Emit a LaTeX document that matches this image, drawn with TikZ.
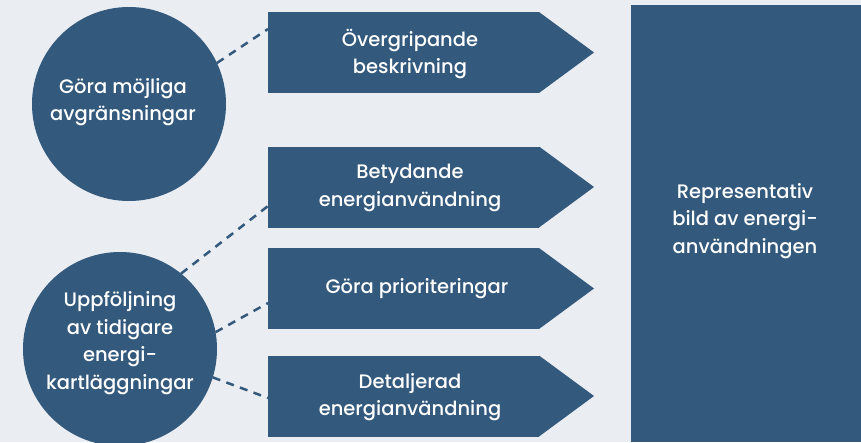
\documentclass[tikz,border=0pt]{standalone}
\usepackage{fontspec}
\setmainfont{Poppins}[UprightFont={* Medium}]
\definecolor{navy}{HTML}{33597D}
\definecolor{bgc}{HTML}{EAEDF2}
\begin{document}
\begin{tikzpicture}[x=1pt,y=-1pt,
  txt/.style={text=white, font=\fontsize{19.5}{27.7}\selectfont, align=center, inner sep=0pt},
  disc/.style={circle, fill=navy, minimum size=194pt, inner sep=0pt, outer sep=0pt},
  body/.style={rectangle, fill=navy, minimum width=271pt, minimum height=81pt, inner sep=0pt, outer sep=0pt},
  tip/.style={fill=navy},
  link/.style={draw=navy, line width=2.5pt, dash pattern=on 8pt off 6.5pt}]
\useasboundingbox (0,0) rectangle (861,442);
\fill[bgc] (0,0) rectangle (861,442);
\clip (0,0) rectangle (861,442);

% circles
\node[disc] (c1) at (129,104) {};
\node[txt] (c1t) at (123,102) {Göra möjliga\\avgränsningar};
\node[disc] (c2) at (120,349) {};
\node[txt] (c2t) at (120,343) {Uppföljning\\av tidigare\\energi-\\kartläggningar};

% arrows
\node[body] (a1) at (403.5,52.5) {};
\fill[tip] (a1.north east) -- ([xshift=55pt]a1.east) -- (a1.south east) -- cycle;
\node[txt] (a1t) at (410,54) {Övergripande\\beskrivning};

\node[body] (a2) at (403.5,187) {};
\fill[tip] (a2.north east) -- ([xshift=55pt]a2.east) -- (a2.south east) -- cycle;
\node[txt] (a2t) at (410,188) {Betydande\\energianvändning};

\node[body] (a3) at (403.5,288.5) {};
\fill[tip] (a3.north east) -- ([xshift=55pt]a3.east) -- (a3.south east) -- cycle;
\node[txt] (a3t) at (417,289) {Göra prioriteringar};

\node[body] (a4) at (403.5,396) {};
\fill[tip] (a4.north east) -- ([xshift=55pt]a4.east) -- (a4.south east) -- cycle;
\node[txt] (a4t) at (410,397) {Detaljerad\\energianvändning};

% result box
\node[rectangle, fill=navy, minimum width=230pt, minimum height=437pt, inner sep=0pt, outer sep=0pt] (r) at (746,223.5) {};
\node[txt] (rt) at (745,221) {Representativ\\bild av energi-\\användningen};

% dashed links
\draw[link] (c1.25) -- ([yshift=23.5pt]a1.west);
\draw[link] (c2.51) -- ([yshift=-19pt]a2.west);
\draw[link] (c2.10) -- ([yshift=-14.5pt]a3.west);
\draw[link] (c2.-17) -- ([yshift=-2pt]a4.west);
\end{tikzpicture}
\end{document}
